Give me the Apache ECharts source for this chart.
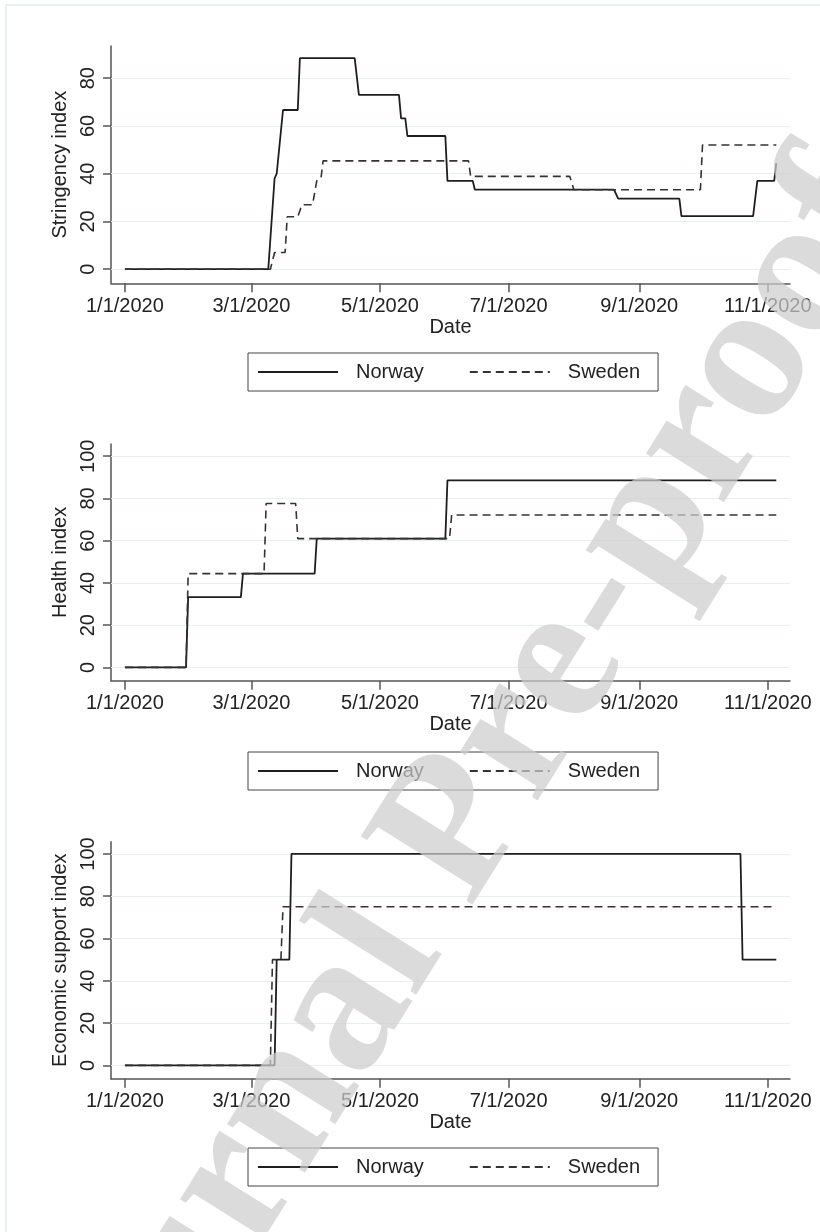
<!DOCTYPE html>
<html>
<head>
<meta charset="utf-8">
<script src="https://cdn.jsdelivr.net/npm/echarts@6/dist/echarts.min.js"></script>
<style>
html,body{margin:0;padding:0;background:#fff;}
#chart{width:820px;height:1232px;}
</style>
</head>
<body>
<div id="chart"></div>
<script>
// x values are days since 1/1/2020
const xTickDays = [0, 60, 121, 182, 244, 305];
const xTickLabels = ['1/1/2020', '3/1/2020', '5/1/2020', '7/1/2020', '9/1/2020', '11/1/2020'];
const yTicksStringency = [0, 20, 40, 60, 80];
const yTicksHealth = [0, 20, 40, 60, 80, 100];
const yTicksEconomic = [0, 20, 40, 60, 80, 100];
const seriesNames = ['Norway', 'Sweden'];
const axisTitles = ['Stringency index', 'Health index', 'Economic support index'];

const norwayStringencyDays   = [0, 68, 71, 72, 75, 82, 83, 109, 111, 130, 131, 133, 134, 152, 153, 165, 166, 232, 234, 263, 264, 298, 300, 308, 309];
const norwayStringencyValues = [0, 0, 38, 40, 66.7, 66.7, 88.4, 88.4, 73, 73, 63.2, 63.2, 55.8, 55.8, 37, 37, 33.3, 33.3, 29.6, 29.6, 22.2, 22.2, 37, 37, 44.4];
const swedenStringencyDays   = [0, 69, 71, 76, 77, 82, 84, 89, 91, 93, 94, 163, 164, 211, 213, 273, 274, 309];
const swedenStringencyValues = [0, 0, 7, 7, 22, 22, 27, 27, 37, 38, 45.4, 45.4, 38.9, 38.9, 33.3, 33.3, 52, 52];

const norwayHealthDays   = [0, 29, 30, 55, 56, 90, 91, 152, 153, 309];
const norwayHealthValues = [0, 0, 33.3, 33.3, 44.4, 44.4, 61, 61, 88.6, 88.6];
const swedenHealthDays   = [0, 29, 30, 66, 67, 81, 82, 154, 155, 309];
const swedenHealthValues = [0, 0, 44.4, 44.4, 77.6, 77.6, 61, 61, 72.2, 72.2];

const norwayEconomicDays   = [0, 71, 72, 78, 79, 292, 293, 309];
const norwayEconomicValues = [0, 0, 50, 50, 100, 100, 50, 50];
const swedenEconomicDays   = [0, 69, 70, 74, 75, 309];
const swedenEconomicValues = [0, 0, 50, 50, 75, 75];

function zip(d, v) { return d.map((x, i) => [x, v[i]]); }

const FONT = '"Liberation Sans", Arial, sans-serif';
const axisColor = '#555';
const textColor = '#222';
const gridTops = [46, 444, 841.7];
const gridHeights = [237.3, 236.7, 237];
const yRanges = [[-5.9, 93.5], [-6.3, 105.8], [-6.3, 105.8]];
const yTickSets = [yTicksStringency, yTicksHealth, yTicksEconomic];
const legendTops = [353, 752, 1148];

const panels = [
  [norwayStringencyDays, norwayStringencyValues, swedenStringencyDays, swedenStringencyValues],
  [norwayHealthDays, norwayHealthValues, swedenHealthDays, swedenHealthValues],
  [norwayEconomicDays, norwayEconomicValues, swedenEconomicDays, swedenEconomicValues]
];

const grids = [], xAxes = [], yAxes = [], series = [], legends = [];
for (let i = 0; i < 3; i++) {
  grids.push({ left: 111, width: 679, top: gridTops[i], height: gridHeights[i] });
  xAxes.push({
    type: 'value', gridIndex: i, min: -6.6, max: 315.5,
    name: 'Date', nameLocation: 'middle', nameGap: 34,
    nameTextStyle: { color: textColor, fontSize: 20, fontFamily: FONT },
    axisLine: { show: true, onZero: false, lineStyle: { color: axisColor, width: 1.5 } },
    axisTick: { show: true, customValues: xTickDays, length: 9, lineStyle: { color: axisColor, width: 1.5 } },
    axisLabel: {
      customValues: xTickDays, margin: 13, color: textColor, fontSize: 20, fontFamily: FONT,
      formatter: v => { const k = xTickDays.indexOf(v); return k >= 0 ? xTickLabels[k] : ''; }
    },
    splitLine: { show: false }
  });
  yAxes.push({
    type: 'value', gridIndex: i, min: yRanges[i][0], max: yRanges[i][1],
    name: axisTitles[i], nameLocation: 'middle', nameGap: 37, nameRotate: 90,
    nameTextStyle: { color: textColor, fontSize: 20, fontFamily: FONT },
    axisLine: { show: true, onZero: false, lineStyle: { color: axisColor, width: 1.5 } },
    axisTick: { show: true, customValues: yTickSets[i], length: 8, lineStyle: { color: axisColor, width: 1.5 } },
    axisLabel: { customValues: yTickSets[i], rotate: 90, margin: 13, color: textColor, fontSize: 20, fontFamily: FONT },
    splitLine: { show: false }
  });
  // gridlines helper
  series.push({
    type: 'line', xAxisIndex: i, yAxisIndex: i, data: [], z: 1,
    markLine: {
      silent: true, symbol: 'none', z: 1, animation: false,
      label: { show: false },
      lineStyle: { color: '#e6eff1', type: 'solid', width: 1.2 },
      data: yTickSets[i].map(v => ({ yAxis: v }))
    }
  });
  const p = panels[i];
  series.push({
    name: seriesNames[0], type: 'line', xAxisIndex: i, yAxisIndex: i, z: 3,
    data: zip(p[0], p[1]), symbol: 'none', animation: false,
    lineStyle: { color: '#1e1e1e', width: 1.8, type: 'solid' }, itemStyle: { color: '#1e1e1e' }
  });
  series.push({
    name: seriesNames[1], type: 'line', xAxisIndex: i, yAxisIndex: i, z: 3,
    data: zip(p[2], p[3]), symbol: 'none', animation: false,
    lineStyle: { color: '#333', width: 1.6, type: [8, 5] }, itemStyle: { color: '#333' }
  });
  legends.push({
    data: seriesNames, left: 248, top: legendTops[i], orient: 'horizontal',
    padding: [7, 18, 7, 9], itemGap: 45, itemWidth: 80, itemHeight: 2,
    borderColor: '#444', borderWidth: 1, backgroundColor: '#fff',
    selectedMode: false,
    itemStyle: { opacity: 0 },
    textStyle: { color: textColor, fontSize: 20, fontFamily: FONT, lineHeight: 24, padding: [0, 0, 0, 13] }
  });
}

const chart = echarts.init(document.getElementById('chart'), null, { renderer: 'canvas' });
chart.setOption({
  backgroundColor: '#fff',
  animation: false,
  grid: grids, xAxis: xAxes, yAxis: yAxes, series: series, legend: legends,
  graphic: [
    { type: 'rect', z: 0, silent: true, shape: { x: 6, y: 5, width: 900, height: 1300 },
      style: { fill: 'none', stroke: '#e2eceb', lineWidth: 1.5 } },
    { type: 'text', z: 100, silent: true, x: 455, y: 835, rotation: 58 * Math.PI / 180,
      style: { text: 'Journal Pre-proof', font: 'bold 200px "Liberation Serif", "DejaVu Serif", serif',
        fill: 'rgba(205,205,205,0.72)', align: 'center', verticalAlign: 'middle' } }
  ]
});
</script>
</body>
</html>
